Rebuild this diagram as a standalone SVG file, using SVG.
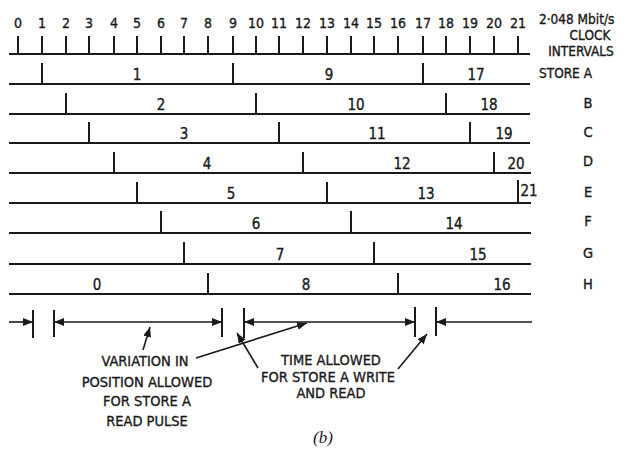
<svg xmlns="http://www.w3.org/2000/svg" width="627" height="449" viewBox="0 0 627 449">
<style>
.ln{stroke:#1a1a1a;stroke-width:2;fill:none;stroke-linecap:butt}
.th{stroke:#1a1a1a;stroke-width:1.6;fill:none}
text{font-family:"Liberation Sans Narrow","DejaVu Sans Condensed","Liberation Sans",sans-serif;font-stretch:condensed;fill:#1a1a1a;stroke:#1a1a1a;stroke-width:0.35}
.n{font-size:15px;text-anchor:middle}
.t{font-size:14px;text-anchor:middle}
.r{font-size:13.5px}
.h{font-size:13.5px;text-anchor:middle}
.c{font-size:14.5px;text-anchor:middle}
.b{font-family:"Liberation Serif",serif;font-style:italic;font-size:17px;text-anchor:middle;font-stretch:normal;stroke:none}
</style>
<defs>
<marker id="ah" viewBox="0 0 10 8" refX="10" refY="4" markerWidth="10" markerHeight="8" markerUnits="userSpaceOnUse" orient="auto-start-reverse">
<path d="M0,0 L10,4 L0,8 Z" fill="#1a1a1a"/>
</marker>
</defs>
<rect width="627" height="449" fill="#fff"/>

<g id="clock">
<path class="ln" d="M9,54 H530"/>
<path class="ln" d="M18,36V54M42,36V54M66,36V54M89,36V54M114,36V54M137,36V54M161,36V54M184,36V54M208,36V54M233,36V54M256,36V54M279,36V54M303,36V54M327,36V54M351,36V54M374,36V54M398,36V54M423,36V54M446,36V54M470,36V54M494,36V54M518,36V54"/>
<text class="t" x="18" y="28">0</text><text class="t" x="42" y="28">1</text><text class="t" x="66" y="28">2</text><text class="t" x="89" y="28">3</text><text class="t" x="114" y="28">4</text><text class="t" x="137" y="28">5</text><text class="t" x="161" y="28">6</text><text class="t" x="184" y="28">7</text><text class="t" x="208" y="28">8</text><text class="t" x="233" y="28">9</text><text class="t" x="256" y="28">10</text><text class="t" x="279" y="28">11</text><text class="t" x="303" y="28">12</text><text class="t" x="327" y="28">13</text><text class="t" x="351" y="28">14</text><text class="t" x="374" y="28">15</text><text class="t" x="398" y="28">16</text><text class="t" x="423" y="28">17</text><text class="t" x="446" y="28">18</text><text class="t" x="470" y="28">19</text><text class="t" x="494" y="28">20</text><text class="t" x="518" y="28">21</text>
<text class="r" x="539" y="24">2·048 Mbit/s</text>
<text class="h" x="590" y="39.5">CLOCK</text>
<text class="h" x="581" y="55.5">INTERVALS</text>
</g>

<g id="storeA">
<path class="ln" d="M9,84 H530 M42,63V84 M233,63V84 M423,63V84"/>
<text class="n" x="137" y="80">1</text><text class="n" x="329" y="80">9</text><text class="n" x="476" y="80">17</text>
<text class="r" x="539" y="78">STORE A</text>
</g>
<g id="storeB">
<path class="ln" d="M9,114 H530 M66,93V114 M256,93V114 M446,93V114"/>
<text class="n" x="161" y="110">2</text><text class="n" x="356" y="110">10</text><text class="n" x="489" y="110">18</text>
<text class="c" x="588" y="108">B</text>
</g>
<g id="storeC">
<path class="ln" d="M9,143 H530 M89,122V143 M279,122V143 M470,122V143"/>
<text class="n" x="184" y="139">3</text><text class="n" x="377" y="139">11</text><text class="n" x="504" y="139">19</text>
<text class="c" x="588" y="137">C</text>
</g>
<g id="storeD">
<path class="ln" d="M9,173 H531 M114,152V173 M303,152V173 M494,152V173"/>
<text class="n" x="207" y="169">4</text><text class="n" x="402" y="169">12</text><text class="n" x="516" y="169">20</text>
<text class="c" x="588" y="166">D</text>
</g>
<g id="storeE">
<path class="ln" d="M9,203 H531 M137,182V203 M327,182V203 M518,180V203"/>
<text class="n" x="231" y="199">5</text><text class="n" x="426" y="199">13</text><text class="n" x="529" y="196">21</text>
<text class="c" x="588" y="197">E</text>
</g>
<g id="storeF">
<path class="ln" d="M9,233 H531 M161,211V233 M351,211V233"/>
<text class="n" x="256" y="229">6</text><text class="n" x="454" y="229">14</text>
<text class="c" x="588" y="226">F</text>
</g>
<g id="storeG">
<path class="ln" d="M9,264 H531 M184,242V264 M374,242V264"/>
<text class="n" x="280" y="260">7</text><text class="n" x="478" y="260">15</text>
<text class="c" x="588" y="258">G</text>
</g>
<g id="storeH">
<path class="ln" d="M9,294 H531 M208,273V294 M398,273V294"/>
<text class="n" x="97" y="290">0</text><text class="n" x="306" y="290">8</text><text class="n" x="502" y="290">16</text>
<text class="c" x="588" y="289">H</text>
</g>

<g id="dimensions">
<path class="ln" d="M33,310V338 M54,310V337 M222,308V337 M244,308V338 M415,307V337 M436,307V336"/>
<path class="th" d="M9,322 H33" marker-end="url(#ah)"/>
<path class="th" d="M54,322 H222" marker-start="url(#ah)" marker-end="url(#ah)"/>
<path class="th" d="M244,322 H415" marker-start="url(#ah)" marker-end="url(#ah)"/>
<path class="th" d="M532,322 H436" marker-end="url(#ah)"/>
</g>

<g id="label-variation">
<text class="c" x="145" y="366">VARIATION IN</text>
<text class="c" x="147" y="387">POSITION ALLOWED</text>
<text class="c" x="147" y="406">FOR STORE A</text>
<text class="c" x="147" y="426">READ PULSE</text>
</g>
<g id="label-time">
<text class="c" x="331" y="365">TIME ALLOWED</text>
<text class="c" x="328" y="382">FOR STORE A WRITE</text>
<text class="c" x="331" y="398">AND READ</text>
</g>

<g id="connectors">
<path class="th" d="M143,350 L150,327" marker-end="url(#ah)"/>
<path class="th" d="M196,358 L307,323" marker-end="url(#ah)"/>
<path class="th" d="M258,368 L237,333" marker-end="url(#ah)"/>
<path class="th" d="M398,369 L427,334" marker-end="url(#ah)"/>
</g>

<text class="b" x="323" y="443">(b)</text>
</svg>
